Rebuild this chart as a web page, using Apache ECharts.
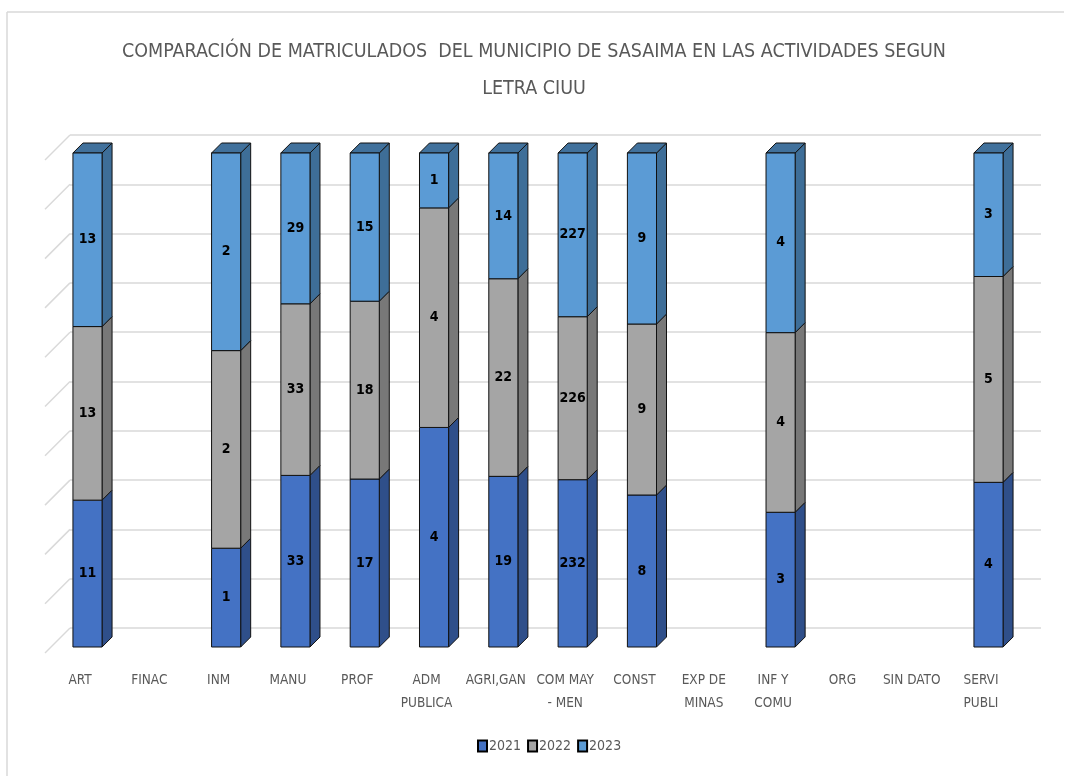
<!DOCTYPE html>
<html>
<head>
<meta charset="utf-8">
<script src="https://cdn.jsdelivr.net/npm/echarts@6/dist/echarts.min.js"></script>
<style>
html,body{margin:0;padding:0;background:#fff;}
#chart{width:1068px;height:776px;}
</style>
</head>
<body>
<div id="chart"></div>
<script>
const categories = ['ART','FINAC','INM','MANU','PROF','ADM\nPUBLICA','AGRI,GAN','COM MAY\n- MEN','CONST','EXP DE\nMINAS','INF Y\nCOMU','ORG','SIN DATO','SERVI\nPUBLI'];
const years = ['2021','2022','2023'];
const v2021 = [11,0,1,33,17,4,19,232,8,0,3,0,0,4];
const v2022 = [13,0,2,33,18,4,22,226,9,0,4,0,0,5];
const v2023 = [13,0,2,29,15,1,14,227,9,0,4,0,0,3];
const percentTicks = [0,10,20,30,40,50,60,70,80,90,100];

const FONT = '"Liberation Sans Narrow","DejaVu Sans Condensed",sans-serif';
const faceColors = ['#4472C4','#A5A5A5','#5B9BD5'];
const sideColors = ['#2F4F8A','#787878','#3E6E98'];
const topColors  = ['#35599A','#8A8A8A','#41719C'];

const seriesValues = [v2021, v2022, v2023];
const totals = categories.map((c, i) => v2021[i] + v2022[i] + v2023[i]);

function stackedData(si) {
  const out = [];
  categories.forEach((c, i) => {
    const t = totals[i];
    if (!t || !seriesValues[si][i]) return;
    let before = 0;
    for (let k = 0; k < si; k++) before += seriesValues[k][i];
    const s = before / t * 100;
    const e = (before + seriesValues[si][i]) / t * 100;
    out.push([i, s, e, seriesValues[si][i]]);
  });
  return out;
}

function makeRender(si) {
  return function (params, api) {
    const i = api.value(0), s = api.value(1), e = api.value(2), raw = api.value(3);
    const p0 = api.coord([i, s]);
    const p1 = api.coord([i, e]);
    const band = api.size([1, 0])[0];
    const bw = band * 0.42;
    const off = 7.5, d = 10;
    const xl = p0[0] + off - bw / 2, xr = xl + bw;
    const yb = p0[1], yt = p1[1];
    const children = [];
    children.push({
      type: 'polygon',
      shape: { points: [[xr, yt], [xr + d, yt - d], [xr + d, yb - d], [xr, yb]] },
      style: { fill: sideColors[si], stroke: '#111', lineWidth: 1 }
    });
    if (e >= 99.999) {
      children.push({
        type: 'polygon',
        shape: { points: [[xl, yt], [xl + d, yt - d], [xr + d, yt - d], [xr, yt]] },
        style: { fill: topColors[si], stroke: '#111', lineWidth: 1 }
      });
    }
    children.push({
      type: 'rect',
      shape: { x: xl, y: yt, width: bw, height: yb - yt },
      style: { fill: faceColors[si], stroke: '#111', lineWidth: 1 }
    });
    children.push({
      type: 'text',
      style: {
        text: String(raw), x: (xl + xr) / 2, y: (yt + yb) / 2,
        align: 'center', verticalAlign: 'middle',
        fill: '#000', fontSize: 14, fontWeight: 'bold', fontFamily: FONT
      }
    });
    return { type: 'group', children };
  };
}

const chart = echarts.init(document.getElementById('chart'), null, { renderer: 'canvas' });

const series = [
  {
    type: 'custom', name: 'wall', xAxisIndex: 0, yAxisIndex: 0, silent: true,
    data: percentTicks.map(v => [0, v]),
    renderItem: function (params, api) {
      const p = api.coord([0, api.value(1)]);
      return { type: 'line', shape: { x1: p[0], y1: p[1], x2: p[0] - 25, y2: p[1] + 25 },
        style: { stroke: '#d9d9d9', lineWidth: 1.5 } };
    },
    z: 1
  }
];
years.forEach((y, si) => {
  series.push({
    type: 'custom', name: y, xAxisIndex: 1, yAxisIndex: 1,
    itemStyle: { color: faceColors[si], borderColor: '#000', borderWidth: 1 },
    encode: { x: 0, y: [1, 2] },
    data: stackedData(si),
    renderItem: makeRender(si),
    z: 5 + si
  });
});

chart.setOption({
  animation: false,
  color: faceColors,
  title: {
    text: 'COMPARACIÓN DE MATRICULADOS  DEL MUNICIPIO DE SASAIMA EN LAS ACTIVIDADES SEGUN\nLETRA CIUU',
    left: 'center', top: 28,
    textStyle: { fontFamily: FONT, fontSize: 19.5, fontWeight: 'normal', color: '#595959', lineHeight: 37 }
  },
  legend: {
    data: years, bottom: 18, left: 472,
    icon: 'rect', itemWidth: 9, itemHeight: 11, itemGap: 6,
    textStyle: { fontFamily: FONT, fontSize: 14, color: '#595959', padding: [0, 0, 0, -3] }
  },
  graphic: [
    { type: 'line', shape: { x1: 7, y1: 12, x2: 1064, y2: 12 },
      style: { stroke: '#d9d9d9', lineWidth: 1.5 }, silent: true, z: -1 },
    { type: 'line', shape: { x1: 7, y1: 12, x2: 7, y2: 776 },
      style: { stroke: '#d9d9d9', lineWidth: 1.5 }, silent: true, z: -1 }
  ],
  grid: [
    { left: 70, right: 27, top: 135, bottom: 148 },
    { left: 45.35, right: 52.35, top: 153, bottom: 129 }
  ],
  xAxis: [
    { gridIndex: 0, type: 'value', min: 0, max: 1, show: false },
    { gridIndex: 1, type: 'category', data: categories,
      axisLine: { show: false }, axisTick: { show: false }, splitLine: { show: false },
      axisLabel: { interval: 0, margin: 22, fontFamily: FONT, fontSize: 13.5, color: '#595959', lineHeight: 23 } }
  ],
  yAxis: [
    { gridIndex: 0, type: 'value', min: 0, max: 100, interval: 10,
      axisLabel: { show: false }, axisLine: { show: false }, axisTick: { show: false },
      splitLine: { lineStyle: { color: '#d9d9d9', width: 1.5 } } },
    { gridIndex: 1, type: 'value', min: 0, max: 100, show: false, splitLine: { show: false } }
  ],
  series: series
});
</script>
</body>
</html>
